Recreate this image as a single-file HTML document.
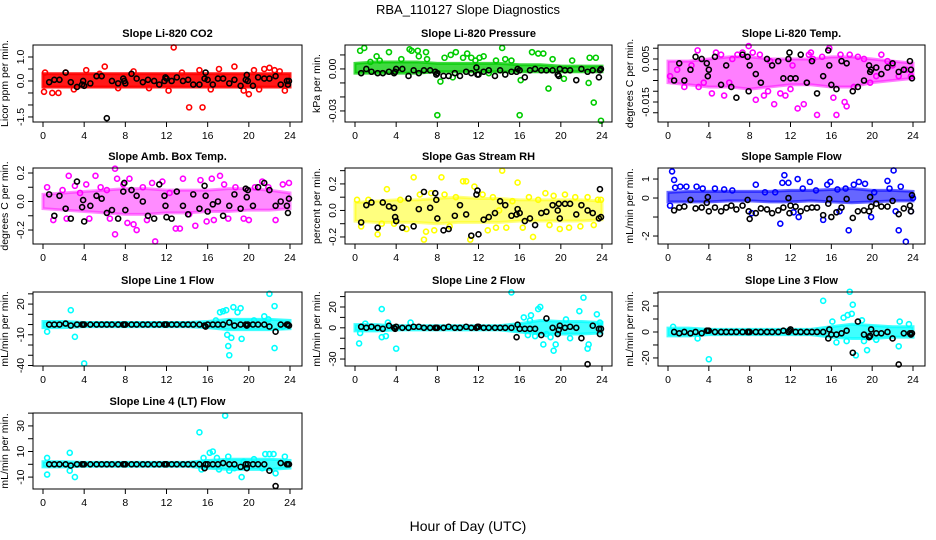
<!DOCTYPE html>
<html><head><meta charset="utf-8">
<style>
html,body{margin:0;padding:0;background:#fff;}
svg{display:block;font-family:"Liberation Sans",sans-serif;}
</style></head>
<body>
<svg id="chart" width="936" height="540" viewBox="0 0 936 540" xmlns="http://www.w3.org/2000/svg">
<text x="468" y="14" text-anchor="middle" font-size="13">RBA_110127  Slope Diagnostics</text>
<text x="468" y="531" text-anchor="middle" font-size="14">Hour of Day (UTC)</text>
</svg>
<script>
// shared hours
const blackHours = [0.6,1.1,1.6,2.2,2.7,3.3,3.8,3.9,4.0,4.6,5.2,5.7,6.2,6.7,7.3,7.8,7.9,8.0,8.6,9.1,9.7,10.2,10.8,11.3,11.8,11.9,12.0,12.5,13.0,13.6,14.1,14.6,15.2,15.7,15.8,16.0,16.5,17.0,17.5,18.1,18.6,19.2,19.7,19.8,19.9,20.4,20.9,21.5,22.0,22.6,23.1,23.7,23.8,23.9];
const binHours = [0,2,4,6,8,10,12,14,16,18,20,22,24];
const xTicks = [0,4,8,12,16,20,24];

// CO2
const co2Black = [-0.05,0.05,0.05,0.35,-0.05,-0.25,-0.15,0.0,-0.2,-0.1,0.2,0.2,-1.55,0.0,-0.1,0.1,0.0,-0.1,0.3,0.1,-0.05,0.05,0.0,-0.15,0.0,0.15,0.1,0.0,0.15,0.0,0.05,-0.15,-0.15,0.1,0.35,0.05,-0.15,0.1,0.1,-0.1,0.05,-0.2,0.05,0.25,0.0,-0.2,0.15,0.1,0.1,0.2,-0.15,0.0,-0.15,0.0];
const co2BandLo = [-0.25,-0.25,-0.25,-0.25,-0.25,-0.25,-0.25,-0.25,-0.25,-0.25,-0.25,-0.25,-0.25];
const co2BandHi = [0.3,0.3,0.3,0.3,0.3,0.3,0.3,0.3,0.3,0.3,0.3,0.3,0.3];
const co2OutHours = [0.1,0.2,0.9,1.5,2.2,4.2,5.5,6.0,8.8,12.7,12.2,14.2,15.5,15.2,17.1,18.6,19.5,20.0,20.5,21.5,22.0,22.5,23.0,23.5,7.3,10.3,3.0,13.5,16.3,21.0];
const co2OutVals = [-0.45,0.35,-0.5,-0.5,0.35,0.45,0.3,0.6,0.4,1.4,-0.4,-1.1,-1.1,0.45,0.5,0.6,-0.4,-0.55,0.45,0.5,0.55,0.45,0.4,-0.4,-0.3,-0.3,-0.35,0.35,-0.35,-0.35];
const co2YTicks = [-1.5,-1.0,-0.5,0.0,0.5,1.0];
const co2YLabels = ["-1.5","","","0.0","","1.0"];

// Pressure
const presBlack = [-0.003,0.000,-0.002,-0.003,-0.003,-0.002,-0.003,-0.002,0.000,0.000,-0.005,-0.001,-0.003,-0.001,-0.001,-0.002,-0.004,-0.003,-0.005,-0.005,-0.003,-0.005,-0.002,-0.003,0.001,-0.004,-0.004,-0.002,-0.001,-0.005,-0.001,-0.004,-0.002,-0.002,0.000,-0.001,-0.006,-0.001,0.000,-0.001,-0.001,-0.001,-0.004,-0.005,0.000,-0.001,-0.001,-0.008,0.000,-0.002,-0.001,-0.006,-0.001,0.000];
const presBandLo = [-0.003,-0.003,-0.003,-0.003,-0.002,-0.002,-0.002,-0.002,-0.002,-0.002,-0.002,-0.002,-0.002];
const presBandHi = [0.004,0.005,0.005,0.005,0.004,0.004,0.004,0.004,0.003,0.003,0.002,0.002,0.002];
const presOutHours = [0.5,0.9,1.5,2.1,2.4,3.3,4.5,5.3,5.5,6.1,6.2,6.9,7.0,8.0,8.3,8.7,9.3,9.8,10.5,10.9,11.3,11.7,12.1,12.5,13.7,14.3,14.6,15.2,16.0,16.1,17.2,17.8,18.3,18.8,19.2,20.3,21.1,22.8,23.2,23.4,23.9,22.7,9.5,13.0];
const presOutVals = [0.013,0.015,0.005,0.009,0.006,0.012,0.007,0.014,0.013,0.013,0.009,0.012,0.007,-0.033,-0.009,0.008,0.010,0.012,0.008,0.011,0.008,0.006,0.008,0.009,0.006,0.015,0.007,0.006,-0.033,-0.008,0.012,0.011,0.011,-0.014,0.007,-0.007,0.006,0.008,-0.024,0.008,-0.037,-0.010,-0.006,-0.003];
const presYTicks = [-0.03,-0.02,-0.01,0.0,0.01];
const presYLabels = ["-0.03","","","0.00",""];

// Li-820 Temp
const tempBlack = [-0.005,0.003,-0.005,0.0,0.006,0.005,0.003,-0.003,0.0,0.006,-0.007,0.002,-0.008,-0.013,0.007,0.006,-0.010,0.002,-0.002,-0.006,0.005,0.002,0.004,-0.004,0.005,0.008,-0.004,-0.004,0.007,-0.006,0.004,-0.011,-0.003,0.009,0.002,-0.007,-0.009,0.004,0.003,-0.010,-0.008,-0.005,0.002,-0.001,0.000,0.001,-0.002,0.001,0.003,-0.001,0.000,0.004,0.000,-0.004];
const tempBandLo = [-0.006,-0.007,-0.008,-0.008,-0.009,-0.008,-0.007,-0.007,-0.008,-0.008,-0.006,-0.005,-0.004];
const tempBandHi = [0.004,0.004,0.005,0.006,0.006,0.005,0.005,0.005,0.006,0.006,0.005,0.004,0.003];
const tempOutHours = [0.2,0.9,1.6,2.3,2.9,3.5,4.3,4.7,5.2,5.5,6.0,6.8,7.3,7.9,8.3,8.6,9.0,9.4,9.8,10.0,10.4,11.0,11.5,12.2,12.7,13.3,13.8,14.2,14.6,15.1,15.8,16.2,16.5,16.9,17.3,17.5,17.8,18.2,18.6,19.2,19.8,20.4,20.9,21.5,22.0,22.6,23.3,23.8,3.0,6.3,12.0,14.0];
const tempOutVals = [-0.003,0.0,-0.008,0.002,0.009,-0.006,-0.011,0.008,0.007,-0.012,-0.006,0.007,0.008,0.011,0.008,-0.014,0.007,-0.012,-0.010,0.004,-0.016,-0.011,-0.012,0.002,-0.018,-0.016,0.007,0.005,-0.021,0.006,0.010,-0.013,-0.021,0.007,-0.015,-0.017,0.007,-0.008,0.006,0.005,-0.006,-0.003,0.007,0.004,0.002,-0.003,0.000,-0.003,-0.008,0.005,-0.009,0.008];
const tempYTicks = [-0.02,-0.015,-0.01,-0.005,0.0,0.005,0.01];
const tempYLabels = ["","-0.015","","","","0.005",""];

// Amb box temp
const ambBlack = [0.05,-0.1,0.04,-0.05,-0.12,0.14,-0.04,0.01,-0.14,-0.03,0.04,0.02,-0.08,-0.06,-0.12,0.07,0.13,-0.06,0.08,0.04,0.0,-0.1,-0.12,0.12,0.04,-0.03,-0.11,-0.12,0.07,-0.03,-0.09,0.05,-0.05,0.11,0.04,-0.07,-0.02,0.0,-0.1,-0.03,0.05,-0.05,0.09,0.03,0.08,-0.03,0.1,0.13,0.08,-0.03,0.0,-0.03,-0.08,0.02];
const ambBandLo = [-0.05,-0.06,-0.07,-0.08,-0.09,-0.09,-0.08,-0.08,-0.07,-0.07,-0.06,-0.06,-0.05];
const ambBandHi = [0.05,0.06,0.07,0.08,0.09,0.09,0.08,0.08,0.08,0.09,0.09,0.08,0.06];
const ambOutHours = [0.4,1.0,1.9,2.3,3.1,3.6,4.2,4.5,5.1,5.6,6.2,6.5,7.0,7.2,7.0,7.8,8.2,8.4,8.8,9.1,9.7,10.1,10.6,10.9,11.6,12.3,12.9,13.3,13.6,14.2,14.8,15.3,15.9,16.4,16.6,17.2,17.6,18.0,18.7,19.5,20.0,20.6,21.3,21.9,22.6,23.3,23.9,2.5];
const ambOutVals = [0.1,-0.13,0.08,-0.12,0.11,0.06,0.12,-0.12,0.18,0.1,0.08,-0.12,0.23,0.16,-0.23,0.12,-0.15,0.16,-0.16,-0.2,0.1,-0.13,0.13,-0.28,0.14,0.06,-0.19,-0.19,0.16,-0.09,-0.17,0.15,-0.14,0.16,-0.13,0.18,0.12,-0.12,0.1,-0.12,-0.13,0.1,0.14,0.1,-0.13,0.12,0.13,0.18];
const ambYTicks = [-0.2,-0.1,0.0,0.1,0.2];
const ambYLabels = ["-0.2","","0.0","","0.2"];

// Gas stream RH
const rhBlack = [-0.09,0.04,0.06,-0.13,0.06,0.03,0.02,-0.05,-0.08,-0.13,0.09,-0.12,0.01,0.14,0.02,0.13,0.08,-0.06,-0.15,-0.14,-0.04,0.04,-0.03,-0.19,0.12,0.15,-0.18,-0.07,-0.05,-0.02,0.07,0.04,-0.04,-0.03,0.01,-0.02,-0.08,-0.06,-0.11,-0.02,-0.01,0.04,0.0,0.05,-0.06,0.05,0.05,-0.03,0.04,0.0,-0.02,-0.06,0.16,-0.05];
const rhBandLo = [-0.08,-0.09,-0.09,-0.09,-0.1,-0.09,-0.09,-0.09,-0.08,-0.08,-0.08,-0.08,-0.07];
const rhBandHi = [0.06,0.07,0.08,0.08,0.09,0.1,0.09,0.09,0.08,0.08,0.08,0.08,0.07];
const rhOutHours = [0.2,0.6,1.3,2.2,2.6,3.1,3.8,4.4,5.0,5.7,6.3,6.7,6.9,7.4,7.7,8.4,8.7,9.2,9.8,10.5,10.8,11.2,11.6,12.4,12.9,13.4,14.0,14.3,14.7,15.3,15.8,16.3,16.9,17.3,17.8,18.5,18.9,19.3,19.9,20.4,20.8,21.4,21.9,22.6,23.2,23.6,23.9,13.7];
const rhOutVals = [0.08,-0.12,0.08,-0.18,-0.1,0.16,-0.1,0.08,-0.14,0.25,0.12,-0.22,-0.16,0.13,-0.15,0.25,0.12,-0.12,0.1,0.22,0.22,-0.22,0.18,0.12,-0.15,0.1,0.0,0.3,-0.13,0.07,0.21,-0.13,0.1,-0.2,0.08,0.13,-0.11,0.11,-0.14,0.12,-0.13,0.1,-0.12,0.1,-0.11,0.08,0.08,-0.13];
const rhYTicks = [-0.2,-0.1,0.0,0.1,0.2,0.3];
const rhYLabels = ["-0.2","","0.0","","0.2",""];

// Sample flow
const sampBlack = [-0.65,-0.5,-0.45,-0.1,-0.55,-0.5,-0.25,0.05,-0.7,-0.5,-0.7,-0.5,-0.4,-0.6,-0.4,-0.1,-0.7,-1.1,-0.8,-0.55,-0.6,-0.8,-0.65,-0.5,0.0,-0.8,-0.4,-0.45,-0.7,-0.55,-0.5,-0.5,-0.9,-0.3,-0.05,-1.0,-0.75,-0.5,-0.05,-1.05,-0.7,-0.65,-0.7,0.05,-0.45,-0.3,-0.45,-0.45,-0.15,-0.85,-0.55,-0.4,-0.7,0.15];
const sampBandLo = [-0.2,-0.2,-0.2,-0.15,-0.15,-0.2,-0.2,-0.15,-0.2,-0.25,-0.2,-0.15,-0.15];
const sampBandHi = [0.3,0.35,0.35,0.35,0.35,0.35,0.4,0.4,0.45,0.5,0.4,0.4,0.35];
const sampOutHours = [0.2,0.4,0.6,0.7,1.2,1.8,2.8,3.4,4.6,5.5,6.3,8.2,8.6,9.5,10.5,11.0,11.2,11.4,11.8,12.3,12.7,12.8,13.2,13.9,14.5,15.2,15.6,15.9,16.6,17.4,17.7,18.2,18.7,19.3,19.9,21.5,21.7,22.1,22.3,22.6,22.8,23.3,23.8,24.0,16.8,20.2];
const sampOutVals = [-0.4,1.4,0.95,0.55,0.6,0.6,0.6,0.5,0.5,0.45,0.4,-0.8,0.7,0.3,0.3,-1.35,0.8,1.2,0.8,-0.75,1.0,-1.0,0.5,0.85,0.4,-1.15,0.7,0.85,0.45,0.5,-1.7,0.7,0.85,0.75,-1.0,0.9,0.5,1.45,-0.7,-1.7,0.6,-2.3,-0.7,0.0,-0.7,0.3];
const sampYTicks = [-2,-1,0,1];
const sampYLabels = ["-2","","0","1"];

// Line 1
const l1Black = [0,0,0,1,-1,0,0,0,0,0,0,0,0,0,0,0,0,0,0,0,0,0,0,0,0,0,0,0,0,0,0,0,0,-1,-2,0,0,0,0,2,-1,0,0,-1,0,0,0,0,-2,-7,0,0,0,-1];
const l1BandLo = [-3,-3,-2,-2,-2,-2,-2,-2,-3,-5,-5,-5,-4];
const l1BandHi = [3,3,2,2,2,2,2,2,3,5,5,5,4];
const l1OutHours = [2.7,3.1,4.0,0.4,17.2,17.5,17.8,18.5,18.9,19.2,17.9,18.0,18.1,18.3,19.3,21.5,22.0,22.5,22.5,16.8,20.5,21.9,23.3];
const l1OutVals = [14,-12,-38,-7,12,13,14,17,12,16,-10,-21,-30,-13,-14,8,30,18,-23,4,4,5,-2];
const l1YTicks = [-40,-30,-20,-10,0,10,20,30];
const l1YLabels = ["-40","","","-10","","","20",""];

// Line 2
const l2Black = [1,0,1,0,-1,2,0,-1,1,0,0,1,1,0,0,0,0,0,0,1,0,0,1,0,0,1,1,0,0,0,0,0,0,-9,3,-1,-1,-1,-1,-7,9,0,-6,-2,2,0,1,0,-10,-35,2,-1,-6,-1];
const l2BandLo = [-3,-3,-2,-2,-2,-2,-2,-2,-4,-6,-6,-6,-5];
const l2BandHi = [3,3,2,2,2,2,2,2,4,7,6,6,5];
const l2OutHours = [0.4,0.5,1.0,2.6,2.6,3.0,3.2,4.0,5.4,15.2,16.4,16.8,17.1,17.5,17.8,18.0,18.3,18.6,19.0,19.3,19.5,20.5,21.8,22.2,22.6,22.7,23.5,23.8,20.9,17.0];
const l2OutVals = [-15,-5,4,-9,18,-8,5,-20,5,34,10,-7,12,-8,18,20,-16,-6,-9,-22,-16,8,16,29,-20,-16,13,5,-10,7];
const l2YTicks = [-30,-20,-10,0,10,20,30];
const l2YLabels = ["-30","","","0","","20",""];

// Line 3
const l3Black = [0,-1,0,-1,0,-1,1,1,1,0,0,0,0,0,0,0,0,0,0,0,0,0,0,1,0,1,2,0,0,0,0,0,0,-5,2,-2,-2,-1,1,-16,8,-2,-4,-3,2,-1,-1,0,-5,-25,-1,-1,-2,-1];
const l3BandLo = [-3,-3,-2,-2,-2,-2,-2,-2,-4,-5,-5,-4,-4];
const l3BandHi = [3,3,2,2,2,2,2,2,4,6,5,4,4];
const l3OutHours = [0.5,2.9,4.0,15.2,16.1,17.2,17.6,17.8,18.0,18.1,18.4,17.5,19.2,19.5,20.4,22.6,22.7,23.6,16.5,19.0];
const l3OutVals = [4,-5,-21,24,8,11,13,31,14,21,-18,-7,-7,-14,-6,-11,8,6,-8,9];
const l3YTicks = [-20,-10,0,10,20,30];
const l3YLabels = ["-20","","0","","20",""];

// Line 4
const l4Black = [0,0,0,0,-1,0,0,0,0,0,0,0,0,0,0,0,0,0,0,0,0,0,0,0,0,0,0,0,0,0,0,0,0,-3,0,0,0,0,1,0,0,-2,0,-3,0,0,0,0,-5,-17,1,0,0,0];
const l4BandLo = [-2,-2,-1.5,-1.5,-1.5,-1.5,-1.5,-1.5,-3,-4,-4,-4,-3];
const l4BandHi = [2,2,1.5,1.5,1.5,1.5,1.5,1.5,3,4,4,4,3];
const l4OutHours = [0.4,0.4,2.6,2.6,3.1,15.2,15.4,15.6,16.2,16.5,17.1,17.7,18.0,18.1,18.6,19.3,19.5,20.5,21.6,22.0,22.4,22.6,23.5,16.9,21.3];
const l4OutVals = [5,-8,9,-5,-10,25,-4,5,9,10,-4,38,6,-5,-3,-10,2,4,8,8,8,-7,6,5,-3];
const l4YTicks = [-10,0,10,20,30,40];
const l4YLabels = ["-10","","10","","30",""];

const SVGNS = "http://www.w3.org/2000/svg";
const svg = document.getElementById('chart');
function mk(tag, attrs, parent){
  const e = document.createElementNS(SVGNS, tag);
  for (const k in attrs) e.setAttribute(k, attrs[k]);
  (parent||svg).appendChild(e);
  return e;
}

const cols = [{l:33,r:302,x0:43,x24:290},{l:345,r:612,x0:355,x24:602},{l:658,r:925,x0:668,x24:913}];
const rows = [{t:45,b:122},{t:168,b:244},{t:292,b:366},{t:413,b:489}];

const panels = [
 {key:'co2',title:'Slope Li-820 CO2',ylab:'Licor ppm per min.',c:0,r:0,color:'#ff0000',op:0.9,ymin:-1.71,ymax:1.5,black:co2Black,lo:co2BandLo,hi:co2BandHi,oh:co2OutHours,ov:co2OutVals,yt:co2YTicks,yl:co2YLabels},
 {key:'pressure',title:'Slope Li-820 Pressure',ylab:'kPa per min.',c:1,r:0,color:'#00cc00',op:0.75,ymin:-0.0379,ymax:0.0171,black:presBlack,lo:presBandLo,hi:presBandHi,oh:presOutHours,ov:presOutVals,yt:presYTicks,yl:presYLabels},
 {key:'li820-temp',title:'Slope Li-820 Temp.',ylab:'degrees C per min.',c:2,r:0,color:'#ff00ff',op:0.5,ymin:-0.0243,ymax:0.0115,black:tempBlack,lo:tempBandLo,hi:tempBandHi,oh:tempOutHours,ov:tempOutVals,yt:tempYTicks,yl:tempYLabels},
 {key:'amb-box-temp',title:'Slope Amb. Box Temp.',ylab:'degrees C per min.',c:0,r:1,color:'#ff00ff',op:0.45,ymin:-0.298,ymax:0.235,black:ambBlack,lo:ambBandLo,hi:ambBandHi,oh:ambOutHours,ov:ambOutVals,yt:ambYTicks,yl:ambYLabels},
 {key:'gas-stream-rh',title:'Slope Gas Stream RH',ylab:'percent per min.',c:1,r:1,color:'#ffff00',op:0.5,ymin:-0.253,ymax:0.32,black:rhBlack,lo:rhBandLo,hi:rhBandHi,oh:rhOutHours,ov:rhOutVals,yt:rhYTicks,yl:rhYLabels},
 {key:'sample-flow',title:'Slope Sample Flow',ylab:'mL/min per min.',c:2,r:1,color:'#0000ff',op:0.6,ymin:-2.42,ymax:1.58,black:sampBlack,lo:sampBandLo,hi:sampBandHi,oh:sampOutHours,ov:sampOutVals,yt:sampYTicks,yl:sampYLabels},
 {key:'line1-flow',title:'Slope Line 1 Flow',ylab:'mL/min per min.',c:0,r:2,color:'#00ffff',op:0.75,ymin:-40.5,ymax:31.8,black:l1Black,lo:l1BandLo,hi:l1BandHi,oh:l1OutHours,ov:l1OutVals,yt:l1YTicks,yl:l1YLabels},
 {key:'line2-flow',title:'Slope Line 2 Flow',ylab:'mL/min per min.',c:1,r:2,color:'#00ffff',op:0.75,ymin:-36.7,ymax:34.4,black:l2Black,lo:l2BandLo,hi:l2BandHi,oh:l2OutHours,ov:l2OutVals,yt:l2YTicks,yl:l2YLabels},
 {key:'line3-flow',title:'Slope Line 3 Flow',ylab:'mL/min per min.',c:2,r:2,color:'#00ffff',op:0.75,ymin:-26.2,ymax:30.8,black:l3Black,lo:l3BandLo,hi:l3BandHi,oh:l3OutHours,ov:l3OutVals,yt:l3YTicks,yl:l3YLabels},
 {key:'line4-flow',title:'Slope Line 4 (LT) Flow',ylab:'mL/min per min.',c:0,r:3,color:'#00ffff',op:0.75,ymin:-19.3,ymax:40.1,black:l4Black,lo:l4BandLo,hi:l4BandHi,oh:l4OutHours,ov:l4OutVals,yt:l4YTicks,yl:l4YLabels}
];

panels.forEach(p => {
  const C = cols[p.c], R = rows[p.r];
  const xs = h => C.x0 + (C.x24 - C.x0) * h / 24;
  const ys = v => R.b - (R.b - R.t) * (v - p.ymin) / (p.ymax - p.ymin);
  const g = mk('g', {});
  
  
  const title = mk('text', {x:(C.l+C.r)/2, y:R.t-8, 'text-anchor':'middle','font-size':11,'font-weight':'bold'}, g);
  title.textContent = p.title;
  
  
  const yt = mk('text', {transform:`translate(${C.l-25},${(R.t+R.b)/2}) rotate(-90)`, 'text-anchor':'middle','font-size':10.5}, g);
  yt.textContent = p.ylab;
  
  
  // dense band
  let pts = binHours.map((h,i)=>xs(h)+','+ys(p.hi[i]));
  pts = pts.concat(binHours.slice().reverse().map((h,j)=>xs(h)+','+ys(p.lo[binHours.length-1-j])));
  const band = mk('polygon', {points:pts.join(' '), fill:p.color, 'fill-opacity':p.op, stroke:p.color,'stroke-opacity':p.op,'stroke-width':3}, g);
  
  
  // colored outliers
  p.oh.forEach((h,i)=>{
    const c = mk('circle', {cx:xs(h), cy:ys(p.ov[i]), r:2.5, fill:'none', stroke:p.color,'stroke-width':1.6}, g);
    
    
  });
  // black points
  blackHours.forEach((h,i)=>{
    const c = mk('circle', {cx:xs(h), cy:ys(p.black[i]), r:2.5, fill:'none', stroke:'#000','stroke-width':1.6}, g);
    
    
  });
  // box
  const box = mk('rect', {x:C.l, y:R.t, width:C.r-C.l, height:R.b-R.t, fill:'none', stroke:'#000','stroke-width':1}, g);
  
  
  // x axis
  mk('line', {x1:xs(0), x2:xs(24), y1:R.b, y2:R.b, stroke:'#000'}, g);
  xTicks.forEach(t=>{
    mk('line', {x1:xs(t), x2:xs(t), y1:R.b, y2:R.b+5, stroke:'#000'}, g);
    const tx = mk('text', {x:xs(t), y:R.b+17, 'text-anchor':'middle','font-size':10.5}, g);
    tx.textContent = t;
    
    
  });
  // y axis
  const ty = p.yt.map(ys);
  mk('line', {x1:C.l, x2:C.l, y1:Math.min(...ty), y2:Math.max(...ty), stroke:'#000'}, g);
  p.yt.forEach((t,i)=>{
    const y = ys(t);
    mk('line', {x1:C.l-5, x2:C.l, y1:y, y2:y, stroke:'#000'}, g);
    if (p.yl[i]) {
      const tl = mk('text', {transform:`translate(${C.l-9},${y}) rotate(-90)`, 'text-anchor':'middle','font-size':10.5}, g);
      tl.textContent = p.yl[i];
      
      
    }
  });
});
</script>
</body></html>
